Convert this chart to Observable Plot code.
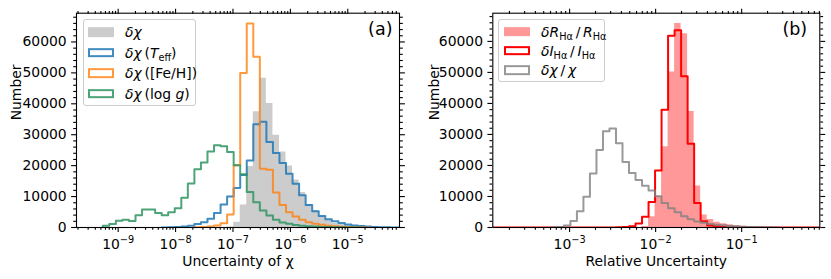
<!DOCTYPE html>
<html><head><meta charset="utf-8">
<script src="https://cdn.jsdelivr.net/npm/d3@7"></script>
<script src="https://cdn.jsdelivr.net/npm/@observablehq/plot@0.6"></script>
<style>
body{margin:0;background:#fff;font-family:"DejaVu Sans",sans-serif;}
#wrap{position:relative;width:831px;height:279px;overflow:hidden;background:#fff;}
.panel{position:absolute;top:0;}
.legend{position:absolute;background:rgba(255,255,255,0.8);border:1px solid #cccccc;border-radius:3px;box-sizing:border-box;}
.sw{position:absolute;width:26px;height:9.7px;transform:translateY(-50%);box-sizing:border-box;}
.lt{position:absolute;white-space:nowrap;font-size:13.9px;line-height:16px;transform:translateY(-50%);color:#000;}
.lt sub{font-size:70%;vertical-align:-0.28em;line-height:0;font-style:normal;}
.lt i{font-style:italic;}
</style></head>
<body><div id="wrap"></div>
<script>
// ---------------- data ----------------
// left panel: log10 bin edges (uniform in log space)
const leftLogStart = -9.268, leftLogStep = 0.114, leftBinCount = 46;
// counts per bin; each series starts at the given bin index
const greyChiStart = 19;
const greyChi = [200, 1720, 7250, 19700, 37400, 48230, 40120, 29840, 24430, 19900, 15350, 11300, 7400, 5400, 3570, 2270, 1400, 970, 650, 420, 260, 160, 100, 50, 25];
const teffStart = 9;
const teff = [20, 50, 150, 300, 600, 1100, 1720, 2800, 4700, 7460, 10000, 12800, 17000, 21700, 33400, 34160, 27670, 24100, 20860, 17400, 14150, 10400, 7300, 5240, 3730, 2700, 2000, 1460, 970, 650, 450, 300, 200, 120, 70, 40, 20];
const fehStart = 14;
const feh = [50, 150, 300, 650, 1400, 4200, 20100, 50000, 66000, 55200, 19000, 18700, 11300, 7250, 4970, 3570, 2490, 1720, 1200, 870, 600, 400, 250, 150, 80, 40, 20];
const loggStart = 0;
const logg = [550, 1100, 2200, 2500, 2100, 4000, 5800, 5800, 4700, 4000, 4900, 6200, 9600, 14200, 18800, 21000, 24600, 26600, 26300, 24400, 20100, 17200, 11500, 8200, 5500, 3900, 2500, 1600, 1200, 800, 550, 400, 300, 200, 150, 100, 60, 30, 15];

// right panel
const rightLogStart = -3.899, rightLogStep = 0.0757, rightBinCount = 52;
const relRStart = 23;
const relR = [300, 3500, 10100, 26000, 50100, 65800, 62500, 37400, 13350, 4000, 2600, 1700, 1200, 850, 600, 420, 300, 200, 130, 80, 40];
const relIStart = 19;
const relI = [50, 150, 400, 1300, 3450, 8220, 18400, 38000, 61800, 63600, 48760, 27000, 7880, 2000, 650, 300, 150, 80, 40, 20];
const relChiStart = 9;
const relChi = [50, 150, 650, 2100, 5200, 9900, 17400, 25000, 31000, 31900, 27150, 21100, 17600, 15350, 13450, 11900, 10100, 7900, 6200, 4900, 3600, 2700, 1900, 1500, 1150, 900, 700, 520, 380, 280, 200, 130, 80, 50, 25];

const leftXDomain = [1.88e-10, 7.96e-5];
const rightXDomain = [1.28e-4, 0.81];
const leftMajorExp = [-9, -8, -7, -6, -5];
const rightMajorExp = [-3, -2, -1];
const yMajor = [0, 10000, 20000, 30000, 40000, 50000, 60000];

// ---------------- helpers ----------------
function edgesOf(start, step, n){ return d3.range(n + 1).map(k => 10 ** (start + k * step)); }
function steps(edges, startIdx, counts, fullRange){
  let s = startIdx, c = counts.slice();
  if (fullRange){ c = [...new Array(startIdx).fill(0), ...counts]; while (c.length < edges.length - 1) c.push(0); s = 0; }
  const pts = [{x: edges[s], y: 0}];
  c.forEach((v, j) => { pts.push({x: edges[s + j], y: v}); pts.push({x: edges[s + j + 1], y: v}); });
  pts.push({x: edges[s + c.length], y: 0});
  return pts;
}
function minorLog(domain){
  const out = [];
  for (let e = Math.floor(Math.log10(domain[0])); e <= Math.ceil(Math.log10(domain[1])); e++)
    for (let m = 2; m <= 9; m++){ const v = m * 10 ** e; if (v >= domain[0] && v <= domain[1]) out.push(v); }
  return out;
}
const yMinor = d3.range(0, 70000, 2000).filter(v => v % 10000 !== 0);

function axes(xDomain, majorsExp, yMax){
  const majors = majorsExp.map(e => 10 ** e);
  const minors = minorLog(xDomain);
  const ym = yMinor.filter(v => v <= yMax);
  const common = {label: null, strokeWidth: 1.1};
  return [
    Plot.axisX({...common, anchor: "bottom", ticks: majors, tickSize: 4.9, tickPadding: 7, tickFormat: d => "10^" + Math.round(Math.log10(d))}),
    Plot.axisX({...common, anchor: "bottom", ticks: minors, tickSize: 2.8, tickFormat: () => ""}),
    Plot.axisX({...common, anchor: "top", ticks: majors, tickSize: 4.9, tickFormat: () => ""}),
    Plot.axisX({...common, anchor: "top", ticks: minors, tickSize: 2.8, tickFormat: () => ""}),
    Plot.axisY({...common, anchor: "left", ticks: yMajor, tickSize: 4.9, tickPadding: 4.9, tickFormat: d => String(d)}),
    Plot.axisY({...common, anchor: "left", ticks: ym, tickSize: 2.8, tickFormat: () => ""}),
    Plot.axisY({...common, anchor: "right", ticks: yMajor, tickSize: 4.9, tickFormat: () => ""}),
    Plot.axisY({...common, anchor: "right", ticks: ym, tickSize: 2.8, tickFormat: () => ""}),
    Plot.frame({stroke: "black", strokeWidth: 1.1})
  ];
}
function supTicks(svg){
  d3.select(svg).selectAll("text").each(function(){
    const m = /^10\^(-?\d+)$/.exec(this.textContent);
    if (!m) return;
    const t = d3.select(this);
    t.text(null);
    t.append("tspan").text("10");
    t.append("tspan").attr("dy", "-0.62em").attr("font-size", "0.7em").text(m[1].replace("-", "\u2212"));
  });
}
const baseStyle = {fontFamily: "DejaVu Sans", fontSize: "13.9px", color: "black", background: "white", overflow: "visible"};
const blueC = "#1f77b4", orangeC = "#ff7f0e", greenC = "#2e9460";

// ---------------- left panel ----------------
const eL = edgesOf(leftLogStart, leftLogStep, leftBinCount);
const yMaxL = 1.05 * d3.max([...greyChi, ...teff, ...feh, ...logg]);
const left = Plot.plot({
  width: 420, height: 279, marginLeft: 76, marginRight: 21, marginTop: 12.7, marginBottom: 52,
  style: baseStyle,
  x: {type: "log", domain: leftXDomain, label: null},
  y: {domain: [0, yMaxL], label: null},
  marks: [
    Plot.areaY(steps(eL, greyChiStart, greyChi), {x: "x", y1: 0, y2: "y", fill: "gray", fillOpacity: 0.4, clip: true}),
    Plot.line(steps(eL, teffStart, teff), {x: "x", y: "y", stroke: blueC, strokeOpacity: 0.85, strokeWidth: 2, clip: true}),
    Plot.line(steps(eL, fehStart, feh), {x: "x", y: "y", stroke: orangeC, strokeOpacity: 0.8, strokeWidth: 2, clip: true}),
    Plot.line(steps(eL, loggStart, logg), {x: "x", y: "y", stroke: greenC, strokeOpacity: 0.85, strokeWidth: 2, clip: true}),
    ...axes(leftXDomain, leftMajorExp, yMaxL),
    Plot.text(["(a)"], {frameAnchor: "top-right", dx: -7, dy: 9, textAnchor: "end", lineAnchor: "top", fontSize: 17.5}),
    Plot.text(["Number"], {frameAnchor: "left", rotate: -90, dx: -60, fontSize: 13.9}),
    Plot.text(["Uncertainty of \u03c7"], {frameAnchor: "bottom", dy: 38, fontSize: 13.9})
  ]
});
supTicks(left);
left.classList.add("panel"); left.style.left = "0px";

// ---------------- right panel ----------------
const eR = edgesOf(rightLogStart, rightLogStep, rightBinCount);
const yMaxR = 1.05 * d3.max([...relR, ...relI, ...relChi]);
const right = Plot.plot({
  width: 411, height: 279, marginLeft: 72.3, marginRight: 11.7, marginTop: 12.7, marginBottom: 52,
  style: baseStyle,
  x: {type: "log", domain: rightXDomain, label: null},
  y: {domain: [0, yMaxR], label: null},
  marks: [
    Plot.areaY(steps(eR, relRStart, relR), {x: "x", y1: 0, y2: "y", fill: "red", fillOpacity: 0.4, clip: true}),
    Plot.line(steps(eR, relIStart, relI, true), {x: "x", y: "y", stroke: "red", strokeWidth: 2, clip: true}),
    Plot.line(steps(eR, relChiStart, relChi), {x: "x", y: "y", stroke: "gray", strokeOpacity: 0.8, strokeWidth: 2, clip: true}),
    ...axes(rightXDomain, rightMajorExp, yMaxR),
    Plot.text(["(b)"], {frameAnchor: "top-right", dx: -12.6, dy: 9, textAnchor: "end", lineAnchor: "top", fontSize: 17.5}),
    Plot.text(["Number"], {frameAnchor: "left", rotate: -90, dx: -58, fontSize: 13.9}),
    Plot.text(["Relative Uncertainty"], {frameAnchor: "bottom", dy: 38, fontSize: 13.9})
  ]
});
supTicks(right);
right.classList.add("panel"); right.style.left = "420px";

const wrap = document.getElementById("wrap");
wrap.appendChild(left);
wrap.appendChild(right);

// ---------------- legends ----------------
function legend(box, rows){
  const lg = document.createElement("div");
  lg.className = "legend";
  Object.assign(lg.style, {left: box.x + "px", top: box.y + "px", width: box.w + "px", height: box.h + "px"});
  rows.forEach(r => {
    const sw = document.createElement("div");
    sw.className = "sw";
    Object.assign(sw.style, {left: "4.6px", top: (r.cy - box.y) + "px"});
    if (r.fill) sw.style.background = r.fill; else { sw.style.border = "2px solid " + r.stroke; sw.style.background = "transparent"; }
    const tx = document.createElement("div");
    tx.className = "lt";
    Object.assign(tx.style, {left: (box.tx - box.x) + "px", top: (r.cy - box.y) + "px"});
    tx.innerHTML = r.html;
    lg.appendChild(sw); lg.appendChild(tx);
  });
  wrap.appendChild(lg);
}
legend({x: 82.7, y: 19.3, w: 113, h: 86.7, tx: 124}, [
  {cy: 31.3, fill: "rgba(128,128,128,0.4)", html: "<i>\u03b4\u03c7</i>"},
  {cy: 51.7, stroke: "rgba(31,119,180,0.85)", html: "<i>\u03b4\u03c7</i>\u2009(<i>T</i><sub>eff</sub>)"},
  {cy: 72.3, stroke: "rgba(255,127,14,0.8)", html: "<i>\u03b4\u03c7</i>\u2009([Fe/H])"},
  {cy: 92.7, stroke: "rgba(46,148,96,0.85)", html: "<i>\u03b4\u03c7</i>\u2009(log <i>g</i>)"}
]);
legend({x: 498.3, y: 19.3, w: 106.7, h: 62.4, tx: 540}, [
  {cy: 30.8, fill: "rgba(255,0,0,0.4)", html: "<i>\u03b4R</i><sub>H\u03b1</sub>\u2009/\u2009<i>R</i><sub>H\u03b1</sub>"},
  {cy: 49.7, stroke: "red", html: "<i>\u03b4I</i><sub>H\u03b1</sub>\u2009/\u2009<i>I</i><sub>H\u03b1</sub>"},
  {cy: 69.5, stroke: "rgba(128,128,128,0.8)", html: "<i>\u03b4\u03c7</i>\u2009/\u2009<i>\u03c7</i>"}
]);
</script>
</body></html>
